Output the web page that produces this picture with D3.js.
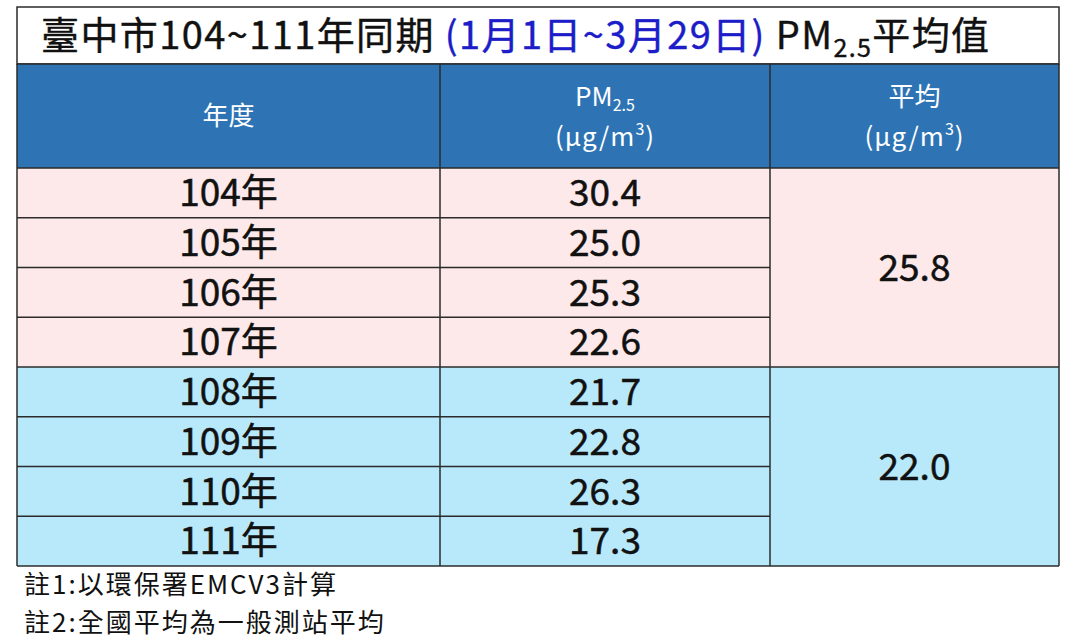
<!DOCTYPE html>
<html>
<head>
<meta charset="utf-8">
<title>臺中市PM2.5平均值</title>
<style>
    body { margin: 0; background: #fff; }
    svg { display: block; }
    text { font-family: "Noto Sans CJK TC", "Noto Sans", sans-serif; }
</style>
</head>
<body>
<main></main>
<script src="https://cdn.jsdelivr.net/npm/d3@7/dist/d3.min.js"></script>
<script>
    // 資料 ============================
    var years = ["104年", "105年", "106年", "107年", "108年", "109年", "110年", "111年"];
    var pm25 = [30.4, 25.0, 25.3, 22.6, 21.7, 22.8, 26.3, 17.3];
    var groupAvg = [25.8, 22.0];
    var groupOf = [0, 0, 0, 0, 1, 1, 1, 1];
    var notes = ["註1:以環保署EMCV3計算", "註2:全國平均為一般測站平均"];

    // 版面 ============================
    var width = 1080, height = 642;
    var left = 17, right = 1059;
    var titleTop = 7, headTop = 64, bodyTop = 168, bodyBottom = 566;
    var colEdges = [left, 440, 770, right];
    var groupColors = ["#fde9e9", "#b8e9fa"];
    var headBlue = "#2e74b5";
    var lineColor = "#2b2b2b";

    var svg = d3.select("main").append("svg")
        .attr("width", width)
        .attr("height", height);

    var y = d3.scaleBand()
        .domain(d3.range(years.length))
        .range([bodyTop, bodyBottom]);

    // 標題列 ==========================
    svg.append("rect")
        .attr("x", left).attr("y", titleTop)
        .attr("width", right - left).attr("height", headTop - titleTop)
        .attr("fill", "#fff")
        .attr("stroke", lineColor).attr("stroke-width", 1.5);

    var title = svg.append("text")
        .attr("x", 41).attr("y", 49)
        .attr("font-size", 38)
        .attr("letter-spacing", 1.4)
        .attr("stroke", "currentColor").attr("stroke-width", 0.4)
        .attr("fill", "#111").style("color", "#111");
    title.append("tspan").text("臺中市104~111年同期 ");
    title.append("tspan").attr("fill", "#1c1cc8").style("color", "#1c1cc8").text("(1月1日~3月29日)");
    title.append("tspan").text(" PM");
    title.append("tspan").attr("font-size", 25).attr("dy", 8).text("2.5");
    title.append("tspan").attr("dy", -8).text("平均值");

    // 表頭 ============================
    svg.append("rect")
        .attr("x", left).attr("y", headTop)
        .attr("width", right - left).attr("height", bodyTop - headTop)
        .attr("fill", headBlue);

    var headMid = (headTop + bodyTop) / 2;
    function colMid(i) { return (colEdges[i] + colEdges[i + 1]) / 2; }

    svg.append("text")
        .attr("x", colMid(0)).attr("y", headMid + 9)
        .attr("text-anchor", "middle").attr("font-size", 26).attr("fill", "#fff")
        .text("年度");

    var h1 = svg.append("text")
        .attr("x", colMid(1)).attr("y", headMid - 10)
        .attr("text-anchor", "middle").attr("font-size", 26).attr("fill", "#fff");
    h1.append("tspan").text("PM");
    h1.append("tspan").attr("font-size", 16).attr("dy", 5).text("2.5");

    function unitText(x, yy) {
        var t = svg.append("text")
            .attr("x", x).attr("y", yy)
            .attr("text-anchor", "middle").attr("font-size", 26).attr("fill", "#fff")
            .attr("letter-spacing", 1);
        t.append("tspan").text("(μg/m");
        t.append("tspan").attr("font-size", 16).attr("dy", -11).text("3");
        t.append("tspan").attr("dy", 11).text(")");
    }
    unitText(colMid(1), headMid + 30);

    svg.append("text")
        .attr("x", colMid(2)).attr("y", headMid - 10)
        .attr("text-anchor", "middle").attr("font-size", 26).attr("fill", "#fff")
        .text("平均");
    unitText(colMid(2), headMid + 30);

    // 表身 ============================
    var rows = svg.selectAll("g.row")
        .data(years)
        .enter().append("g")
        .attr("class", "row");

    rows.append("rect")
        .attr("x", left)
        .attr("y", function (d, i) { return y(i); })
        .attr("width", colEdges[2] - left)
        .attr("height", y.bandwidth())
        .attr("fill", function (d, i) { return groupColors[groupOf[i]]; });

    function cellText(sel) {
        sel.attr("dy", "0.36em")
            .attr("text-anchor", "middle").attr("font-size", 37)
            .attr("fill", "#111").attr("stroke", "#111").attr("stroke-width", 0.5);
    }

    rows.append("text")
        .attr("x", colMid(0))
        .attr("y", function (d, i) { return y(i) + y.bandwidth() / 2; })
        .call(cellText)
        .text(function (d) { return d; });

    rows.append("text")
        .attr("x", colMid(1))
        .attr("y", function (d, i) { return y(i) + y.bandwidth() / 2; })
        .call(cellText)
        .text(function (d, i) { return pm25[i].toFixed(1); });

    // 合併儲存格 (平均)
    var groups = groupAvg.map(function (v, g) {
        var idx = d3.range(years.length).filter(function (i) { return groupOf[i] === g; });
        return { value: v, y0: y(d3.min(idx)), y1: y(d3.max(idx)) + y.bandwidth(), g: g };
    });

    svg.selectAll("rect.avg")
        .data(groups)
        .enter().append("rect")
        .attr("class", "avg")
        .attr("x", colEdges[2])
        .attr("y", function (d) { return d.y0; })
        .attr("width", right - colEdges[2])
        .attr("height", function (d) { return d.y1 - d.y0; })
        .attr("fill", function (d) { return groupColors[d.g]; });

    svg.selectAll("text.avg")
        .data(groups)
        .enter().append("text")
        .attr("class", "avg")
        .attr("x", colMid(2))
        .attr("y", function (d) { return (d.y0 + d.y1) / 2; })
        .call(cellText)
        .text(function (d) { return d.value.toFixed(1); });

    // 格線 ============================
    var lines = svg.append("g")
        .attr("stroke", lineColor).attr("stroke-width", 1.5);

    // 橫線
    d3.range(years.length + 1).forEach(function (i) {
        var yy = i < years.length ? y(i) : bodyBottom;
        var x2 = colEdges[2];
        if (i === 0 || i === years.length || i === 4) x2 = right;
        lines.append("line")
            .attr("x1", left).attr("x2", x2)
            .attr("y1", yy).attr("y2", yy);
    });
    lines.append("line").attr("x1", left).attr("x2", right).attr("y1", headTop).attr("y2", headTop);

    // 直線
    colEdges.forEach(function (x) {
        lines.append("line")
            .attr("x1", x).attr("x2", x)
            .attr("y1", headTop).attr("y2", bodyBottom);
    });

    // 註解 ============================
    svg.selectAll("text.note")
        .data(notes)
        .enter().append("text")
        .attr("class", "note")
        .attr("x", 24)
        .attr("y", function (d, i) { return 594 + i * 38; })
        .attr("font-size", 26)
        .attr("letter-spacing", 2)
        .attr("fill", "#111")
        .text(function (d) { return d; });
</script>
</body>
</html>
